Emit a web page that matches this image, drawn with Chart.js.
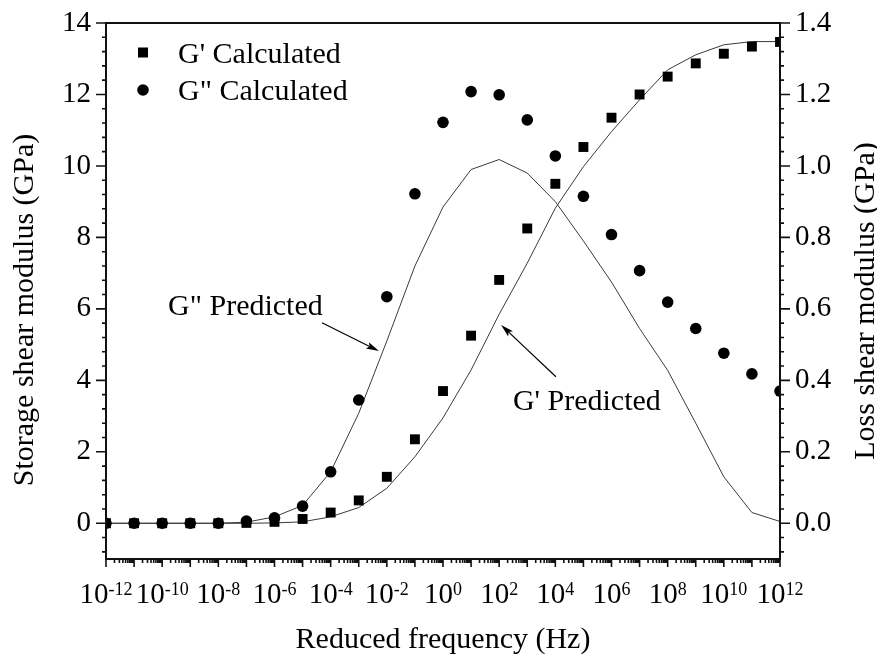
<!DOCTYPE html>
<html><head><meta charset="utf-8">
<script src="https://cdn.jsdelivr.net/npm/chart.js@4/dist/chart.umd.min.js"></script>
<style>html,body{margin:0;padding:0;background:#fff}#wrap{width:877px;height:655px}</style>
</head><body><div id="wrap"><canvas id="c" width="877" height="655"></canvas></div>
<script>
// ---- data ----
const frequencies = [1e-12,1e-11,1e-10,1e-9,1e-8,1e-7,1e-6,1e-5,1e-4,1e-3,1e-2,1e-1,1e0,1e1,1e2,1e3,1e4,1e5,1e6,1e7,1e8,1e9,1e10,1e11,1e12];
const gStorageCalc = [0,0,0,0,0,0.01,0.04,0.12,0.30,0.64,1.30,2.35,3.70,5.25,6.81,8.25,9.50,10.53,11.35,12.00,12.50,12.87,13.14,13.34,13.47];
const gLossCalc    = [0,0,0,0,0,0.006,0.015,0.048,0.144,0.345,0.634,0.922,1.122,1.208,1.199,1.129,1.028,0.915,0.808,0.707,0.619,0.545,0.476,0.418,0.370];
const gStoragePred = [0,0,0,0,0,0,0.01,0.04,0.18,0.44,0.98,1.86,2.95,4.29,5.85,7.28,8.82,9.98,10.96,11.85,12.69,13.11,13.39,13.48,13.48];
const gLossPred    = [0,0,0,0,0,0.003,0.018,0.05,0.144,0.308,0.51,0.72,0.885,0.99,1.018,0.98,0.90,0.79,0.675,0.545,0.428,0.28,0.13,0.03,0.005];
const xTickExponents = [-12,-10,-8,-6,-4,-2,0,2,4,6,8,10,12];
const leftTicks  = [0,2,4,6,8,10,12,14];
const rightTicks = [0,0.2,0.4,0.6,0.8,1.0,1.2,1.4];
const legendItems = ["G' Calculated", 'G" Calculated'];
const xTitle = 'Reduced frequency (Hz)';
const yTitle = 'Storage shear modulus (GPa)';
const y2Title = 'Loss shear modulus (GPa)';
// annotations: [text, textExp, textY, arrowFromExp, arrowFromY, arrowToExp, arrowToY] (left-axis units)
const annLossPred    = ['G" Predicted', -9.79, 5.83, -4.31, 5.61, -2.28, 4.82];
const annStoragePred = ["G' Predicted", 2.49, 3.17, 4.02, 4.10, 2.07, 5.55];

const FONT = '"Liberation Serif","Times New Roman",serif';
const pts = ys => frequencies.map((f,i)=>({x:f,y:ys[i]}));

const framePlugin = {
  id:'frame',
  afterDraw(chart){
    const {ctx, chartArea:a, scales:{x,y,y2}} = chart;
    ctx.save();
    ctx.strokeStyle = '#111';
    ctx.fillStyle = '#111';
    // frame
    ctx.lineWidth = 2;
    ctx.strokeRect(a.left, a.top, a.right-a.left, a.bottom-a.top);
    ctx.lineWidth = 1.6;
    ctx.beginPath();
    // left axis ticks
    for(let k=-2;k<=35;k++){
      const py = y.getPixelForValue(k*0.4);
      const len = (k%5===0)?10:4;
      ctx.moveTo(a.left-len, py); ctx.lineTo(a.left, py);
    }
    // right axis ticks
    for(let k=-2;k<=35;k++){
      const py = y2.getPixelForValue(k*0.04);
      const len = (k%5===0)?10:4;
      ctx.moveTo(a.right, py); ctx.lineTo(a.right+len, py);
    }
    // x ticks
    for(let e=-12;e<=12;e++){
      const px = x.getPixelForValue(Math.pow(10,e));
      ctx.moveTo(px,a.bottom); ctx.lineTo(px,a.bottom+8);
      if(e<12){
        for(let m=2;m<=9;m++){
          const q = x.getPixelForValue(m*Math.pow(10,e));
          ctx.moveTo(q,a.bottom); ctx.lineTo(q,a.bottom+4);
        }
      }
    }
    ctx.stroke();

    // tick labels
    ctx.fillStyle = '#000';
    ctx.font = '29px '+FONT;
    ctx.textBaseline = 'middle';
    ctx.textAlign = 'right';
    leftTicks.forEach(v=>ctx.fillText(String(v), a.left-15, y.getPixelForValue(v)));
    ctx.textAlign = 'left';
    rightTicks.forEach(v=>ctx.fillText(v.toFixed(1), a.right+15, y2.getPixelForValue(v)));
    ctx.textBaseline = 'alphabetic';
    xTickExponents.forEach(e=>{
      const px = x.getPixelForValue(Math.pow(10,e));
      ctx.font = '29px '+FONT;
      const w1 = ctx.measureText('10').width;
      ctx.font = '18px '+FONT;
      const sup = String(e);
      const w2 = ctx.measureText(sup).width;
      const sx = px-(w1+w2)/2;
      ctx.font = '29px '+FONT;
      ctx.fillText('10', sx, 603);
      ctx.font = '18px '+FONT;
      ctx.fillText(sup, sx+w1, 595);
    });

    // axis titles
    ctx.font = '30px '+FONT;
    ctx.textAlign = 'center';
    ctx.fillText(xTitle, (a.left+a.right)/2, 648);
    ctx.save(); ctx.translate(33,310); ctx.rotate(-Math.PI/2); ctx.fillText(yTitle,0,0); ctx.restore();
    ctx.save(); ctx.translate(874,301); ctx.rotate(-Math.PI/2); ctx.fillText(y2Title,0,0); ctx.restore();

    // legend
    ctx.fillStyle = '#000';
    ctx.fillRect(143-5, 52.5-5, 10, 10);
    ctx.beginPath(); ctx.arc(143, 90, 5.8, 0, Math.PI*2); ctx.fill();
    ctx.textAlign = 'left';
    ctx.font = '30px '+FONT;
    ctx.fillText(legendItems[0], 178, 63);
    ctx.fillText(legendItems[1], 178, 100);

    // annotations
    const drawAnn = (ann)=>{
      const [txt, tx, ty, fx, fy, tox, toy] = ann;
      ctx.fillText(txt, x.getPixelForValue(Math.pow(10,tx)), y.getPixelForValue(ty));
      const x1 = x.getPixelForValue(Math.pow(10,fx)), y1 = y.getPixelForValue(fy);
      const x2 = x.getPixelForValue(Math.pow(10,tox)), y2p = y.getPixelForValue(toy);
      const ang = Math.atan2(y2p-y1, x2-x1);
      const hl = 13, hw = 3.5;
      ctx.lineWidth = 1.2;
      ctx.strokeStyle = '#000';
      ctx.beginPath();
      ctx.moveTo(x1,y1);
      ctx.lineTo(x2-Math.cos(ang)*hl*0.8, y2p-Math.sin(ang)*hl*0.8);
      ctx.stroke();
      ctx.beginPath();
      ctx.moveTo(x2,y2p);
      ctx.lineTo(x2-Math.cos(ang)*hl - Math.sin(ang)*hw, y2p-Math.sin(ang)*hl + Math.cos(ang)*hw);
      ctx.lineTo(x2-Math.cos(ang)*hl*0.8, y2p-Math.sin(ang)*hl*0.8);
      ctx.lineTo(x2-Math.cos(ang)*hl + Math.sin(ang)*hw, y2p-Math.sin(ang)*hl - Math.cos(ang)*hw);
      ctx.closePath();
      ctx.fill();
    };
    drawAnn(annLossPred);
    drawAnn(annStoragePred);
    ctx.restore();
  }
};

new Chart(document.getElementById('c'), {
  type:'scatter',
  data:{datasets:[
    {label:legendItems[0], data:pts(gStorageCalc), yAxisID:'y', pointStyle:'rect', pointRadius:7, pointHoverRadius:7,
     pointBackgroundColor:'#000', pointBorderWidth:0, borderWidth:0, showLine:false},
    {label:legendItems[1], data:pts(gLossCalc), yAxisID:'y2', pointStyle:'circle', pointRadius:5.8, pointHoverRadius:5.8,
     pointBackgroundColor:'#000', pointBorderWidth:0, borderWidth:0, showLine:false},
    {label:"G' Predicted", data:pts(gStoragePred), yAxisID:'y', showLine:true, pointRadius:0, pointHoverRadius:0,
     borderColor:'#3a3a3a', borderWidth:1, fill:false, tension:0},
    {label:'G" Predicted', data:pts(gLossPred), yAxisID:'y2', showLine:true, pointRadius:0, pointHoverRadius:0,
     borderColor:'#3a3a3a', borderWidth:1, fill:false, tension:0}
  ]},
  options:{
    responsive:false, animation:false,
    layout:{padding:{top:23,left:0,right:0,bottom:0}},
    plugins:{legend:{display:false}, tooltip:{enabled:false}},
    events:[],
    scales:{
      x:{type:'logarithmic', min:1e-12, max:1e12, grid:{display:false}, border:{display:false}, ticks:{display:false},
         afterFit(s){ s.height = 96; }},
      y:{type:'linear', position:'left', min:-1, max:14, grid:{display:false}, border:{display:false}, ticks:{display:false},
         afterFit(s){ s.width = 106; }},
      y2:{type:'linear', position:'right', min:-0.1, max:1.4, grid:{display:false}, border:{display:false}, ticks:{display:false},
         afterFit(s){ s.width = 97; }}
    }
  },
  plugins:[framePlugin]
});
</script>
</body></html>
